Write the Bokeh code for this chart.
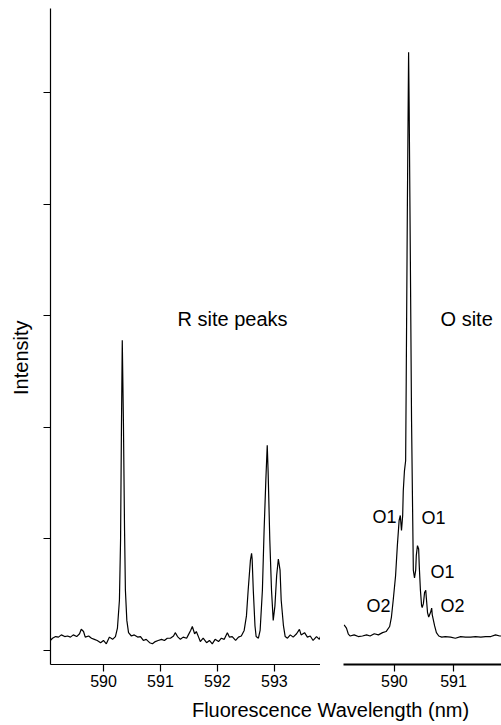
import math
from bokeh.plotting import figure
from bokeh.layouts import column, row
from bokeh.models import FixedTicker, Range1d
from bokeh.core.properties import value
from bokeh.embed import file_html
from bokeh.resources import INLINE

# ---- data (wavelength in nm, intensity in tick units) ----
left_nm = [589.07, 589.105, 589.16, 589.21, 589.26, 589.32, 589.37, 589.42, 589.47, 589.53,
           589.58, 589.61, 589.65, 589.68, 589.74, 589.79, 589.84, 589.89, 589.95, 590.00,
           590.05, 590.105, 590.16, 590.21, 590.245, 590.28, 590.30, 590.315, 590.33, 590.35,
           590.37, 590.385, 590.41, 590.44, 590.49, 590.54, 590.60, 590.65, 590.70, 590.75,
           590.81, 590.86, 590.91, 590.96, 591.02, 591.07, 591.12, 591.175, 591.23, 591.26,
           591.30, 591.35, 591.40, 591.46, 591.49, 591.53, 591.56, 591.60, 591.63, 591.67,
           591.70, 591.75, 591.81, 591.86, 591.91, 591.96, 592.02, 592.07, 592.12, 592.175,
           592.21, 592.26, 592.32, 592.37, 592.42, 592.47, 592.51, 592.54, 592.58, 592.60,
           592.61, 592.63, 592.66, 592.68, 592.72, 592.75, 592.79, 592.82, 592.85, 592.875,
           592.89, 592.92, 592.95, 592.98, 593.01, 593.04, 593.07, 593.10, 593.12, 593.16,
           593.19, 593.23, 593.28, 593.33, 593.39, 593.44, 593.47, 593.53, 593.58, 593.63,
           593.68, 593.74, 593.79, 593.81]
left_int = [0.09, 0.11, 0.125, 0.12, 0.14, 0.125, 0.13, 0.12, 0.14, 0.125,
            0.15, 0.19, 0.17, 0.12, 0.13, 0.11, 0.10, 0.09, 0.07, 0.09,
            0.06, 0.12, 0.10, 0.125, 0.20, 0.45, 0.99, 1.97, 2.78, 2.06,
            1.08, 0.54, 0.27, 0.16, 0.13, 0.14, 0.12, 0.125, 0.09, 0.10,
            0.07, 0.06, 0.08, 0.09, 0.10, 0.09, 0.11, 0.11, 0.13, 0.16,
            0.125, 0.10, 0.12, 0.11, 0.14, 0.18, 0.215, 0.15, 0.17, 0.12,
            0.08, 0.11, 0.07, 0.09, 0.06, 0.10, 0.08, 0.11, 0.10, 0.16,
            0.12, 0.125, 0.09, 0.12, 0.13, 0.18, 0.31, 0.54, 0.81, 0.87,
            0.82, 0.54, 0.22, 0.125, 0.11, 0.18, 0.54, 1.08, 1.52, 1.84,
            1.61, 0.99, 0.54, 0.27, 0.40, 0.67, 0.82, 0.72, 0.45, 0.22,
            0.125, 0.11, 0.14, 0.12, 0.15, 0.19, 0.14, 0.16, 0.12, 0.13,
            0.09, 0.125, 0.10, 0.125]

right_nm = [589.15, 589.19, 589.22, 589.25, 589.32, 589.39, 589.46, 589.53, 589.59, 589.66,
            589.73, 589.80, 589.86, 589.92, 589.95, 589.98, 590.02, 590.05, 590.08, 590.10,
            590.12, 590.14, 590.15, 590.17, 590.19, 590.20, 590.22, 590.24, 590.25, 590.27,
            590.29, 590.31, 590.32, 590.34, 590.36, 590.37, 590.39, 590.41, 590.42, 590.44,
            590.46, 590.47, 590.49, 590.51, 590.53, 590.54, 590.56, 590.58, 590.61, 590.63,
            590.64, 590.68, 590.71, 590.75, 590.80, 590.86, 590.95, 591.03, 591.12, 591.20,
            591.29, 591.37, 591.46, 591.54, 591.63, 591.71, 591.78, 591.81]
right_int = [0.23, 0.20, 0.15, 0.13, 0.14, 0.125, 0.13, 0.14, 0.13, 0.15,
             0.14, 0.16, 0.17, 0.215, 0.30, 0.45, 0.67, 0.94, 1.165, 1.21,
             1.075, 1.21, 1.43, 1.61, 1.70, 2.42, 4.03, 5.36, 4.84, 3.49,
             2.06, 1.165, 0.72, 0.65, 0.72, 0.85, 0.94, 0.91, 0.76, 0.54,
             0.40, 0.385, 0.42, 0.52, 0.54, 0.47, 0.34, 0.30, 0.34, 0.38,
             0.32, 0.22, 0.16, 0.13, 0.12, 0.125, 0.12, 0.11, 0.125, 0.12,
             0.12, 0.125, 0.12, 0.125, 0.125, 0.14, 0.13, 0.13]

left_ticks = [590, 591, 592, 593]
right_ticks = [590, 591]
y_ticks = [0, 1, 2, 3, 4, 5]

FONT = "Liberation Sans"
yr = Range1d(-0.1254, 5.753)


def bare(p):
    p.outline_line_color = None
    p.xgrid.visible = False
    p.ygrid.visible = False
    p.background_fill_color = "white"
    p.border_fill_color = "white"


def style_xaxis(p, ticks, lw):
    ax = p.xaxis[0]
    ax.ticker = FixedTicker(ticks=ticks, minor_ticks=[])
    ax.major_tick_out = 7
    ax.major_tick_in = 0
    ax.minor_tick_out = 0
    ax.minor_tick_in = 0
    ax.axis_line_width = lw
    ax.major_tick_line_width = 1.2
    ax.axis_line_color = "black"
    ax.major_tick_line_color = "black"
    ax.major_label_text_font = FONT
    ax.major_label_text_font_size = "16px"
    ax.major_label_text_color = "black"
    ax.major_label_standoff = 3


# narrow strip holding the rotated y-axis title
ylab = figure(width=36, height=695, x_range=Range1d(0, 36), y_range=Range1d(0, 695),
              output_backend="svg", toolbar_location=None,
              x_axis_location=None, y_axis_location=None, min_border=0)
bare(ylab)
ylab.text(x=[20], y=[325], text=["Intensity"], angle=math.pi / 2, text_font=value(FONT),
          text_font_size="20px", text_align="center", text_baseline="middle", text_color="black")

left = figure(width=284, height=695, x_range=Range1d(589.07, 593.81), y_range=yr,
              output_backend="svg", toolbar_location=None,
              min_border_left=14, min_border_right=0, min_border_top=8, min_border_bottom=31)
right = figure(width=181, height=695, x_range=Range1d(589.14, 591.81), y_range=yr,
               output_backend="svg", toolbar_location=None, y_axis_location=None,
               min_border_left=23, min_border_right=0, min_border_top=8, min_border_bottom=31)
bare(left)
bare(right)

style_xaxis(left, left_ticks, 1.2)
style_xaxis(right, right_ticks, 2.2)

ya = left.yaxis[0]
ya.ticker = FixedTicker(ticks=y_ticks, minor_ticks=[])
ya.major_tick_out = 7
ya.major_tick_in = 0
ya.minor_tick_out = 0
ya.minor_tick_in = 0
ya.axis_line_width = 1.2
ya.major_tick_line_width = 1.2
ya.major_label_overrides = {t: "" for t in y_ticks}
ya.major_label_standoff = 0

left.line(left_nm, left_int, line_color="black", line_width=1.2)
right.line(right_nm, right_int, line_color="black", line_width=1.2)

left.text(x=[591.30], y=[2.97], text=["R site peaks"], text_font=value(FONT),
          text_font_size="20px", text_align="left", text_baseline="alphabetic", text_color="black")
right.text(x=[590.78], y=[2.97], text=["O site"], text_font=value(FONT),
           text_font_size="20px", text_align="left", text_baseline="alphabetic", text_color="black")
right.text(x=[589.63, 590.46, 590.61, 589.53, 590.78],
           y=[1.20, 1.19, 0.705, 0.40, 0.40],
           text=["O1", "O1", "O1", "O2", "O2"], text_font=value(FONT),
           text_font_size="18px", text_align="left", text_baseline="alphabetic", text_color="black")

lab = figure(width=501, height=30, x_range=Range1d(0, 501), y_range=Range1d(0, 30),
             output_backend="svg", toolbar_location=None,
             x_axis_location=None, y_axis_location=None, min_border=0)
bare(lab)
lab.text(x=[330], y=[16], text=["Fluorescence Wavelength (nm)"], text_font=value(FONT),
         text_font_size="20px", text_align="center", text_baseline="alphabetic", text_color="black")

layout = column(row(ylab, left, right, spacing=0), lab, spacing=0)
open("out.html", "w").write(file_html(layout, INLINE))
